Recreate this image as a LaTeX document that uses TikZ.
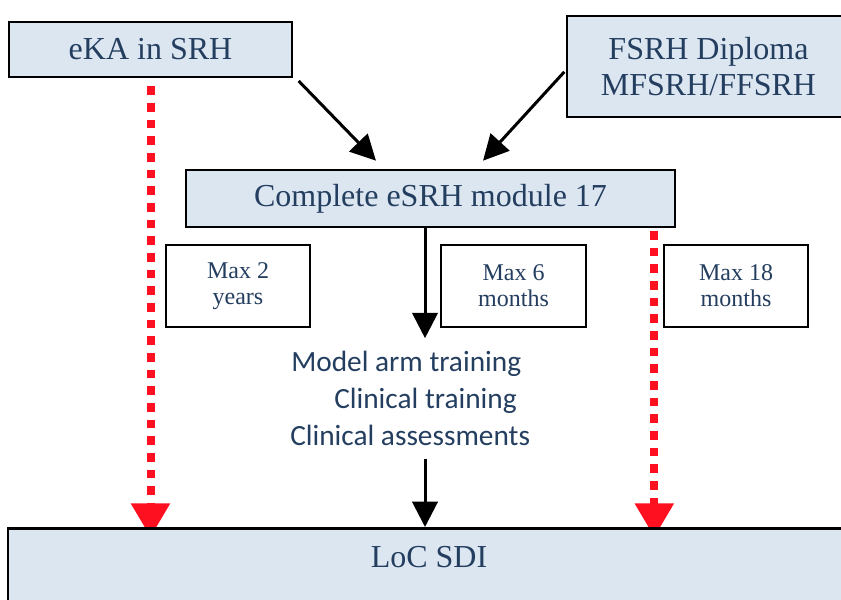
\documentclass[tikz,border=0pt]{standalone}
\usepackage{fontspec}
\setmainfont{Liberation Serif}
\newfontfamily\calfont{Carlito}
\usetikzlibrary{arrows.meta}
\definecolor{boxblue}{RGB}{220,230,241}
\definecolor{navy}{RGB}{36,62,96}
\definecolor{dotred}{RGB}{255,16,32}
\pgfdeclarelayer{background}
\pgfsetlayers{background,main}
\begin{document}
\begin{tikzpicture}[x=0.75pt,y=-0.75pt,
  bluebox/.style={draw=black,line width=2pt,fill=boxblue,text=navy,inner sep=0pt,
    align=center,font=\fontsize{24}{27}\selectfont},
  maxbox/.style={draw=black,line width=2pt,fill=white,text=navy,inner sep=0pt,
    align=center,font=\fontsize{18}{19.5}\selectfont,minimum height=61.5pt},
  trainline/.style={text=navy,inner sep=0pt,anchor=base west,font=\calfont\fontsize{22}{26}\selectfont},
  blackarr/.style={draw=black,line width=2.25pt,-{Triangle[width=19pt,length=19pt]}},
  redarr/.style={draw=dotred,line width=6pt,dash pattern=on 6.5pt off 6pt,
    -{Triangle[width=28pt,length=25.5pt,fill=dotred]},shorten >=-7.7pt}
]
\useasboundingbox (0,0) rectangle (841,599);
\clip (0,0) rectangle (841,599);

\node[bluebox,minimum width=212.25pt,minimum height=41.25pt] (eka) at (150.5,49.5) {eKA in SRH};
\node[bluebox,minimum width=212.25pt,minimum height=75.75pt] (fsrh) at (708.5,66.5) {FSRH Diploma\\MFSRH/FFSRH};
\node[bluebox,minimum width=366.75pt,minimum height=42.75pt] (comp) at (430.5,198.5) {Complete eSRH module 17};
\node[maxbox,minimum width=108pt] (max2) at (238,286) {Max 2\\years};
\node[maxbox,minimum width=108.75pt] (max6) at (513.5,286) {Max 6\\months};
\node[maxbox,minimum width=108pt] (max18) at (736,286) {Max 18\\months};

\node[trainline] (l1) at (291,371.5) {Model arm training};
\node[trainline] (l2) at (334,408.5) {Clinical training};
\node[trainline] (l3) at (290,445.5) {Clinical assessments};

\node[draw=black,line width=2pt,fill=boxblue,text=navy,inner sep=0pt,anchor=north,
  minimum width=631.5pt,text height=29pt,text depth=45pt,
  font=\fontsize{24}{27}\selectfont] (loc) at (429,527) {LoC SDI};

\coordinate (ax) at (425,0);

\draw[blackarr] ([shift={(4pt,-2pt)}]eka.south east) -- ([shift={(-40.9pt,6pt)}]comp.north);
\draw[blackarr] ([shift={(-1pt,-4pt)}]fsrh.west) -- ([shift={(39.4pt,6pt)}]comp.north);
\draw[blackarr] (comp.south -| ax) -- (l1.north -| ax) [shorten >=9.5pt];
\draw[blackarr] (l3.south -| ax) -- (loc.north -| ax) [shorten <=9.4pt];

\begin{pgfonlayer}{background}
\draw[redarr] ([yshift=-6pt]eka.south) -- (eka.south |- loc.north);
\draw[redarr] ([shift={(-16.5pt,-2pt)}]comp.south east) -- ([xshift=-16.5pt]comp.south east |- loc.north);
\end{pgfonlayer}
\end{tikzpicture}
\end{document}
